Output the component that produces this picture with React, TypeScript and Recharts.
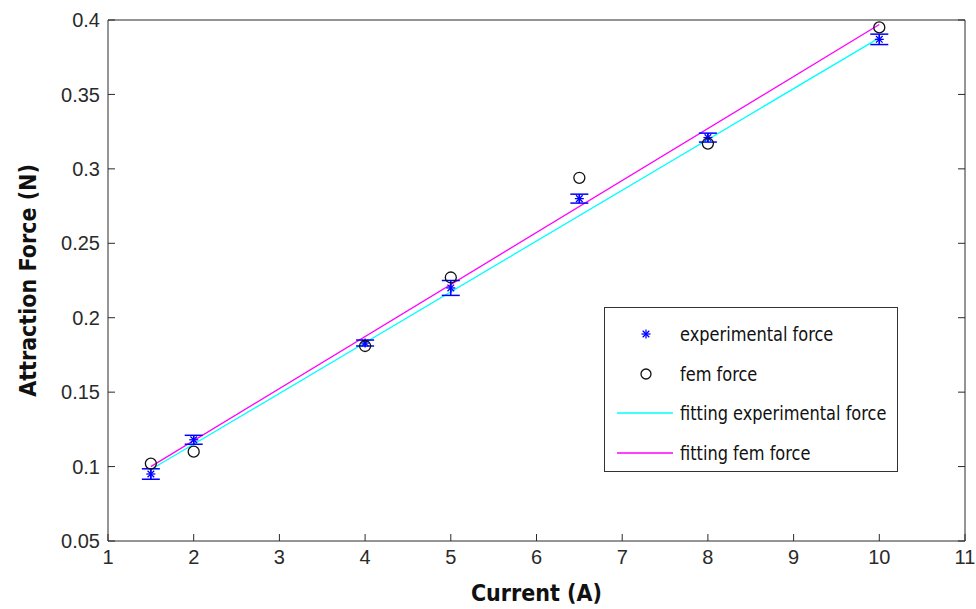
import React from 'react';
import { ComposedChart, Scatter, Line, XAxis, YAxis, ErrorBar, Legend, Label } from 'recharts';

const currents = [1.5, 2, 4, 5, 6.5, 8, 10];
const experimentalForce = [0.095, 0.118, 0.183, 0.220, 0.280, 0.321, 0.387];
const experimentalError = [0.0035, 0.003, 0.002, 0.005, 0.003, 0.003, 0.0035];
const femForce = [0.102, 0.110, 0.181, 0.227, 0.294, 0.317, 0.395];
const fitRange = [1.5, 10];
const fitExperimental = [0.098, 0.388];
const fitFem = [0.100, 0.397];
const xTicks = [1, 2, 3, 4, 5, 6, 7, 8, 9, 10, 11];
const yTicks = [0.05, 0.1, 0.15, 0.2, 0.25, 0.3, 0.35, 0.4];

const expData = currents.map((x, i) => ({ x, y: experimentalForce[i], err: experimentalError[i] }));
const femData = currents.map((x, i) => ({ x, y: femForce[i] }));
const fitExpData = fitRange.map((x, i) => ({ x, y: fitExperimental[i] }));
const fitFemData = fitRange.map((x, i) => ({ x, y: fitFem[i] }));

const AXIS = '#2a2a2a';
const tickStyle = { fontFamily: "'Liberation Sans', Arial, sans-serif", fontSize: 20, fill: '#2a2a2a' };
const labelFont = "'DejaVu Sans Condensed', 'DejaVu Sans', sans-serif";

const StarShape = (props: any) => {
  const { cx, cy } = props;
  if (cx == null || cy == null) return <g />;
  const r = 4.5;
  const d = 3.3;
  return (
    <g stroke="#0000ff" strokeWidth={1.3}>
      <line x1={cx - r} y1={cy} x2={cx + r} y2={cy} />
      <line x1={cx} y1={cy - r} x2={cx} y2={cy + r} />
      <line x1={cx - d} y1={cy - d} x2={cx + d} y2={cy + d} />
      <line x1={cx - d} y1={cy + d} x2={cx + d} y2={cy - d} />
    </g>
  );
};

const CircleShape = (props: any) => {
  const { cx, cy } = props;
  if (cx == null || cy == null) return <g />;
  return <circle cx={cx} cy={cy} r={5.5} fill="none" stroke="#111" strokeWidth={1.3} />;
};

const Empty = () => <g />;

const legendFont = "'DejaVu Sans Condensed', sans-serif";

const LegendBox = () => {
  const rows = [
    { kind: 'star', text: 'experimental force' },
    { kind: 'circle', text: 'fem force' },
    { kind: 'cyan', text: 'fitting experimental force' },
    { kind: 'magenta', text: 'fitting fem force' },
  ];
  return (
    <div
      style={{
        width: 292,
        height: 163,
        border: '1px solid #333',
        background: '#fff',
        boxSizing: 'content-box',
        position: 'relative',
      }}
    >
      {rows.map((r, i) => (
        <div
          key={i}
          style={{
            position: 'absolute',
            left: 0,
            top: 12 + i * 39.7,
            height: 28,
            display: 'flex',
            alignItems: 'center',
          }}
        >
          <svg width={75} height={28} style={{ display: 'block' }}>
            {r.kind === 'star' && <StarShape cx={41} cy={14} />}
            {r.kind === 'circle' && <circle cx={41} cy={14} r={5} fill="none" stroke="#111" strokeWidth={1.3} />}
            {r.kind === 'cyan' && <line x1={12} y1={14} x2={68} y2={14} stroke="#00ffff" strokeWidth={1.3} />}
            {r.kind === 'magenta' && <line x1={12} y1={14} x2={68} y2={14} stroke="#ff00ff" strokeWidth={1.3} />}
          </svg>
          <span
            style={{
              fontFamily: legendFont,
              fontSize: 20,
              color: '#111',
              whiteSpace: 'nowrap',
              display: 'inline-block',
              transform: 'scaleX(0.9)',
              transformOrigin: 'left center',
            }}
          >
            {r.text}
          </span>
        </div>
      ))}
    </div>
  );
};

export default function App() {
  return (
    <div style={{ width: 976, height: 609, background: '#fff', overflow: 'hidden' }}>
      <style>{'html,body{margin:0;padding:0;overflow:hidden;background:#fff}'}</style>
      <ComposedChart width={976} height={609} margin={{ top: 19, right: 10, left: 0, bottom: 0 }}>
        <XAxis
          dataKey="x"
          type="number"
          domain={[1, 11]}
          ticks={xTicks}
          allowDataOverflow
          height={68}
          stroke={AXIS}
          tickSize={-7}
          tickMargin={16}
          tick={tickStyle}
          interval={0}
        >
          <Label
            value="Current (A)"
            position="insideBottom"
            offset={8}
            style={{ fontFamily: labelFont, fontWeight: 'bold', fontSize: 23, fill: '#111' }}
          />
        </XAxis>
        <XAxis
          xAxisId="top"
          orientation="top"
          type="number"
          domain={[1, 11]}
          ticks={xTicks}
          allowDataOverflow
          height={1}
          stroke={AXIS}
          tickSize={-7}
          tick={Empty}
          interval={0}
        />
        <YAxis
          type="number"
          domain={[0.05, 0.4]}
          ticks={yTicks}
          allowDataOverflow
          width={108}
          stroke={AXIS}
          tickSize={-7}
          tickMargin={15}
          tick={tickStyle}
          interval={0}
        >
          <Label
            value="Attraction Force (N)"
            angle={-90}
            position="insideLeft"
            offset={28}
            style={{ fontFamily: labelFont, fontWeight: 'bold', fontSize: 23, fill: '#111', textAnchor: 'middle' }}
          />
        </YAxis>
        <YAxis
          yAxisId="right"
          orientation="right"
          type="number"
          domain={[0.05, 0.4]}
          ticks={yTicks}
          allowDataOverflow
          width={1}
          stroke={AXIS}
          tickSize={-7}
          tick={Empty}
          interval={0}
        />
        <Line data={fitExpData} dataKey="y" stroke="#00ffff" strokeWidth={1.3} dot={false} isAnimationActive={false} legendType="none" />
        <Line data={fitFemData} dataKey="y" stroke="#ff00ff" strokeWidth={1.3} dot={false} isAnimationActive={false} legendType="none" />
        <Scatter data={expData} dataKey="y" shape={StarShape} isAnimationActive={false}>
          <ErrorBar dataKey="err" direction="y" width={9} stroke="#0000ff" strokeWidth={1.5} />
        </Scatter>
        <Scatter data={femData} dataKey="y" shape={CircleShape} isAnimationActive={false} />
        <Legend
          layout="horizontal"
          verticalAlign="middle"
          align="center"
          content={LegendBox}
          wrapperStyle={{ left: 604, top: 307, width: 294, height: 165 }}
        />
      </ComposedChart>
    </div>
  );
}
